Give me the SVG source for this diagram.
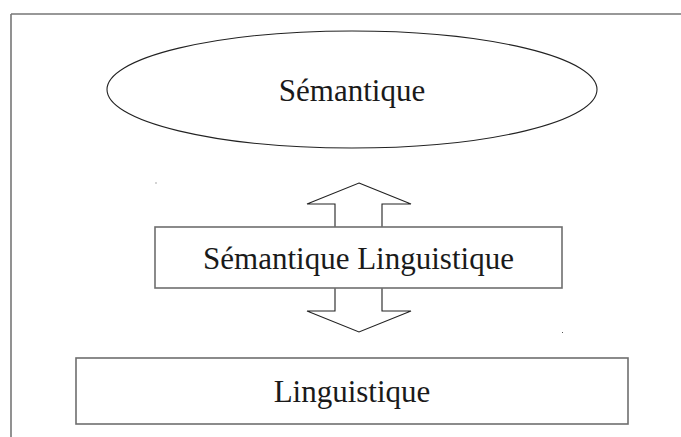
<svg xmlns="http://www.w3.org/2000/svg" width="681" height="437" viewBox="0 0 681 437">
<style>
text{font-family:"Liberation Serif","Times New Roman",serif;font-size:31px;fill:#1a1a1a;text-anchor:middle}
.box{fill:#fff;stroke:#6e6e6e;stroke-width:1.6}
.frame{stroke:#777;stroke-width:1.6;fill:none}
</style>
<rect width="681" height="437" fill="#fff"/>
<g id="frame"><path class="frame" d="M11 14H681M11 14V437"/></g>
<g id="connectors">
<polygon points="359,183 411,204 382,204 382,311 411,311 359,332 307,311 335,311 335,204 307,204" fill="#fff" stroke="#222" stroke-width="1.1"/>
</g>
<g id="semantique">
<ellipse cx="352" cy="89.5" rx="245" ry="58.5" fill="#fff" stroke="#222" stroke-width="1.1"/>
<text x="352" y="101">Sémantique</text>
</g>
<g id="semantique-linguistique">
<rect class="box" x="155" y="227" width="407" height="61"/>
<text x="358.5" y="269">Sémantique Linguistique</text>
</g>
<g id="linguistique">
<rect class="box" x="76" y="358" width="552" height="66"/>
<text x="352" y="402">Linguistique</text>
</g>
<g id="specks" fill="#555">
<rect x="155.5" y="182.5" width="1" height="1"/>
<rect x="562" y="332" width="1" height="1"/>
</g>
</svg>
